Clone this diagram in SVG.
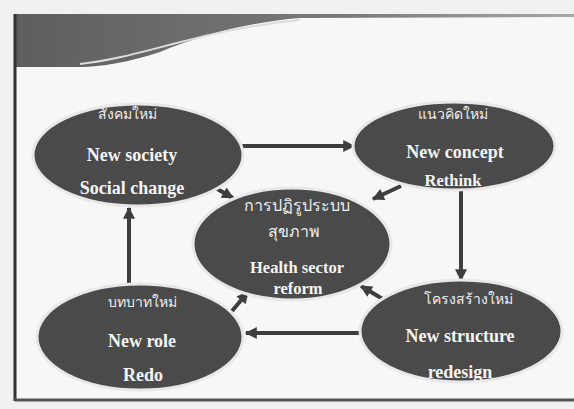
<svg xmlns="http://www.w3.org/2000/svg" width="574" height="409" viewBox="0 0 574 409">
<style>
.node ellipse{fill:#4a4a4a;stroke:#e8e8e8;stroke-width:3}
.en{font-family:"Liberation Serif","Times New Roman",serif;font-weight:bold;font-size:18px;fill:#f4f4f4;text-anchor:middle}
.th{font-family:"Liberation Serif","Noto Sans",serif;font-size:14px;fill:#eeeeee;text-anchor:middle}
.conn line{stroke:#3e3e3e;stroke-width:4;marker-end:url(#ah)}
</style>
<defs>
<marker id="ah" viewBox="0 0 10 10" refX="9" refY="5" markerWidth="14" markerHeight="12" markerUnits="userSpaceOnUse" orient="auto">
<path d="M0,0 L10,5 L0,10 Z" fill="#3e3e3e"/>
</marker>
<linearGradient id="bg" x1="0" y1="0" x2="1" y2="0">
<stop offset="0" stop-color="#5e5e5e"/>
<stop offset="0.6" stop-color="#7a7a7a"/>
<stop offset="1" stop-color="#a8a8a8"/>
</linearGradient>
</defs>
<rect x="0" y="0" width="574" height="409" fill="#f1f1f1"/>
<rect x="15" y="14" width="559" height="387" fill="#f7f7f7"/>
<g id="banner">
<path d="M15,14 L574,14 L574,17 L300,18 C250,22 200,35 160,52 C130,62 100,67 80,67 L15,67 Z" fill="url(#bg)"/>
<path d="M80,64 C140,58 200,30 300,20" fill="none" stroke="#dddddd" stroke-width="2"/>
</g>
<line x1="15" y1="14" x2="15" y2="401" stroke="#333" stroke-width="3"/>
<line x1="15" y1="400" x2="574" y2="400" stroke="#555" stroke-width="3"/>
<g class="conn" id="connectors">
<line x1="238" y1="146" x2="354" y2="146"/>
<line x1="212" y1="186" x2="233" y2="198"/>
<line x1="401" y1="186" x2="373" y2="199"/>
<line x1="461" y1="190" x2="461" y2="280"/>
<line x1="386" y1="301" x2="361" y2="286"/>
<line x1="360" y1="333" x2="246" y2="333"/>
<line x1="129" y1="285" x2="129" y2="208"/>
<line x1="232" y1="311" x2="248" y2="292"/>
</g>
<g class="node" id="center">
<ellipse cx="292" cy="244" rx="99" ry="56"/>
<text class="th" x="297" y="211" style="font-size:16px">การปฏิรูประบบ</text>
<text class="th" x="294" y="237" style="font-size:16px">สุขภาพ</text>
<text class="en" x="297" y="273" style="font-size:16.5px">Health sector</text>
<text class="en" x="298" y="294" style="font-size:16.5px">reform</text>
</g>
<g class="node" id="society">
<ellipse cx="138" cy="155" rx="105" ry="51"/>
<text class="th" x="127" y="119">สังคมใหม่</text>
<text class="en" x="132" y="161">New society</text>
<text class="en" x="132" y="194">Social change</text>
</g>
<g class="node" id="concept">
<ellipse cx="454" cy="146" rx="101" ry="44"/>
<text class="th" x="453" y="119">แนวคิดใหม่</text>
<text class="en" x="455" y="158">New concept</text>
<text class="en" x="453" y="186" style="font-size:16.5px">Rethink</text>
</g>
<g class="node" id="structure">
<ellipse cx="461" cy="331" rx="101" ry="51"/>
<text class="th" x="468" y="304">โครงสร้างใหม่</text>
<text class="en" x="460" y="342">New structure</text>
<text class="en" x="460" y="378">redesign</text>
</g>
<g class="node" id="role">
<ellipse cx="140" cy="337" rx="103" ry="53"/>
<text class="th" x="142" y="307">บทบาทใหม่</text>
<text class="en" x="142" y="347">New role</text>
<text class="en" x="143" y="381">Redo</text>
</g>
</svg>
